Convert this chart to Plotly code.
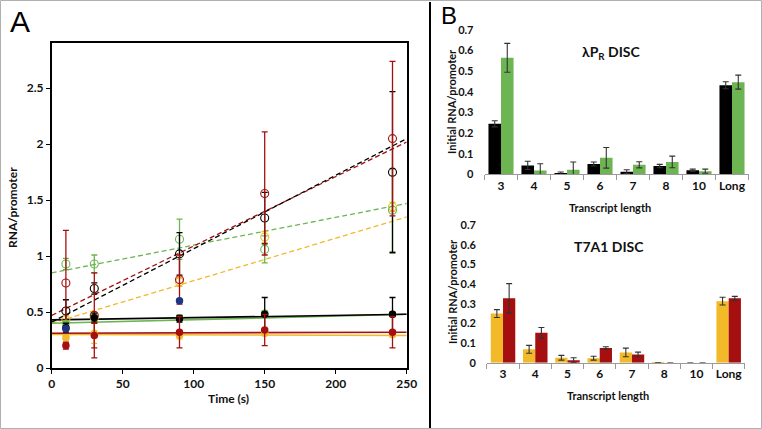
import plotly.graph_objects as go

W, H = 762, 429

# ---------------- Panel A data ----------------
time_s = [10, 30, 90, 150, 240]

red_open = [0.76, 0.47, 0.79, 1.56, 2.05]
red_open_err = [0.47, 0.38, 0.22, 0.55, 0.69]
black_open = [0.51, 0.71, 1.02, 1.34, 1.75]
black_open_err = [0.10, 0.05, 0.19, 0.23, 0.72]
green_open = [0.93, 0.93, 1.15, 1.06, 1.41]
green_open_err = [0.05, 0.08, 0.18, 0.12, 0.37]
yellow_open = [0.43, 0.45, 0.77, 1.17, 1.44]
yellow_open_err = [0.04, 0.05, 0.04, 0.05, 0.04]

black_fill = [0.36, 0.45, 0.44, 0.48, 0.48]
black_fill_err = [0.04, 0.04, 0.03, 0.15, 0.15]
green_fill = [0.40, 0.45, 0.45, 0.49, 0.48]
green_fill_err = [0.02, 0.03, 0.02, 0.02, 0.02]
red_fill = [0.20, 0.29, 0.32, 0.34, 0.32]
red_fill_err = [0.03, 0.11, 0.14, 0.14, 0.14]
yellow_fill = [0.27, 0.31, 0.29, 0.31, 0.30]
yellow_fill_err = [0.02, 0.09, 0.03, 0.02, 0.02]
blue_time = [10, 90]
blue_fill = [0.35, 0.60]

fit_x = [0, 250]
red_fit = [0.47, 2.02]
black_fit = [0.41, 2.05]
green_fit = [0.85, 1.47]
yellow_fit = [0.40, 1.35]
black_flat = [0.43, 0.48]
green_flat = [0.40, 0.48]
red_flat = [0.31, 0.32]
yellow_flat = [0.30, 0.29]

a_yticks = [0, 0.5, 1, 1.5, 2, 2.5]
a_yticklabels = ["0", "0.5", "1", "1.5", "2", "2.5"]
a_xticks = [0, 50, 100, 150, 200, 250]

# ---------------- Panel B data ----------------
lengths = ["3", "4", "5", "6", "7", "8", "10", "Long"]
lpr_black = [0.245, 0.043, 0.003, 0.050, 0.012, 0.040, 0.020, 0.432]
lpr_black_err = [0.015, 0.020, 0.008, 0.010, 0.010, 0.008, 0.005, 0.017]
lpr_green = [0.565, 0.018, 0.022, 0.080, 0.046, 0.060, 0.015, 0.447]
lpr_green_err = [0.070, 0.033, 0.038, 0.050, 0.015, 0.028, 0.010, 0.034]
t7_yellow = [0.250, 0.068, 0.025, 0.023, 0.052, 0.001, 0.0, 0.313]
t7_yellow_err = [0.020, 0.020, 0.012, 0.010, 0.022, 0.0, 0.0, 0.020]
t7_red = [0.327, 0.152, 0.013, 0.075, 0.042, 0.0, 0.0, 0.327]
t7_red_err = [0.075, 0.027, 0.012, 0.006, 0.012, 0.0, 0.0, 0.010]
b_yticks = [0, 0.1, 0.2, 0.3, 0.4, 0.5, 0.6, 0.7]
b_yticklabels = ["0", "0.1", "0.2", "0.3", "0.4", "0.5", "0.6", "0.7"]

C_BLACK = "#000000"
C_GREEN = "#6cb552"
C_RED = "#a50f0f"
C_YELLOW = "#f2b928"
C_BLUE = "#1e3584"
FONT = "Lato"

fig = go.Figure()


def px_x(x):
    return x / W


def px_y(y):
    return 1 - y / H


def err(vals, col, w=1.3):
    return dict(type="data", array=vals, visible=True, color=col, thickness=w, width=3)


# dashed fits
for ys, col in [(green_fit, C_GREEN), (yellow_fit, C_YELLOW), (red_fit, C_RED), (black_fit, C_BLACK)]:
    fig.add_trace(go.Scatter(x=fit_x, y=ys, mode="lines", line=dict(color=col, width=1.3, dash="5px,3px"),
                             xaxis="x", yaxis="y", showlegend=False, hoverinfo="skip"))
# solid fits
for ys, col in [(yellow_flat, C_YELLOW), (red_flat, C_RED), (green_flat, C_GREEN), (black_flat, C_BLACK)]:
    fig.add_trace(go.Scatter(x=fit_x, y=ys, mode="lines", line=dict(color=col, width=1.6),
                             xaxis="x", yaxis="y", showlegend=False, hoverinfo="skip"))

# open circles
for ys, es, col in [(yellow_open, yellow_open_err, C_YELLOW), (green_open, green_open_err, C_GREEN),
                    (black_open, black_open_err, C_BLACK), (red_open, red_open_err, C_RED)]:
    fig.add_trace(go.Scatter(x=time_s, y=ys, mode="markers", error_y=err(es, col),
                             marker=dict(symbol="circle-open", size=8, color=col, line=dict(width=1.1)),
                             xaxis="x", yaxis="y", showlegend=False))
# filled circles
for ys, es, col in [(yellow_fill, yellow_fill_err, C_YELLOW), (green_fill, green_fill_err, C_GREEN),
                    (black_fill, black_fill_err, C_BLACK), (red_fill, red_fill_err, C_RED)]:
    fig.add_trace(go.Scatter(x=time_s, y=ys, mode="markers", error_y=err(es, col),
                             marker=dict(symbol="circle", size=7.5, color=col),
                             xaxis="x", yaxis="y", showlegend=False))
fig.add_trace(go.Scatter(x=blue_time, y=blue_fill, mode="markers",
                         marker=dict(symbol="circle", size=7.5, color=C_BLUE),
                         xaxis="x", yaxis="y", showlegend=False))

# Panel B bars
ebar = dict(type="data", visible=True, color="#333333", thickness=1.1, width=3)
fig.add_trace(go.Bar(x=lengths, y=lpr_black, marker=dict(color=C_BLACK, line=dict(width=0)),
                     error_y=dict(ebar, array=lpr_black_err), xaxis="x2", yaxis="y2", offsetgroup="a", showlegend=False))
fig.add_trace(go.Bar(x=lengths, y=lpr_green, marker=dict(color=C_GREEN, line=dict(width=0)),
                     error_y=dict(ebar, array=lpr_green_err), xaxis="x2", yaxis="y2", offsetgroup="b", showlegend=False))
fig.add_trace(go.Bar(x=lengths, y=t7_yellow, marker=dict(color=C_YELLOW, line=dict(width=0)),
                     error_y=dict(ebar, array=t7_yellow_err), xaxis="x3", yaxis="y3", offsetgroup="c", showlegend=False))
fig.add_trace(go.Bar(x=lengths, y=t7_red, marker=dict(color=C_RED, line=dict(width=0)),
                     error_y=dict(ebar, array=t7_red_err), xaxis="x3", yaxis="y3", offsetgroup="d", showlegend=False))

tickfont = dict(family=FONT, size=12, color="#111111", weight="bold")

fig.update_layout(
    width=W, height=H, margin=dict(l=0, r=0, t=0, b=0, autoexpand=False),
    paper_bgcolor="white", plot_bgcolor="white",
    barmode="group", bargap=0.24, bargroupgap=0,
    xaxis=dict(domain=[px_x(51.7), px_x(406.7)], range=[0, 250], tickvals=a_xticks, tickangle=0,
               showline=True, linecolor="black", linewidth=1.5, mirror=True,
               ticks="outside", ticklen=4, tickcolor="black", tickwidth=1.3,
               showgrid=False, zeroline=False, tickfont=tickfont, anchor="y"),
    yaxis=dict(domain=[px_y(368), px_y(42.7)], range=[0, 2.907], tickvals=a_yticks, ticktext=a_yticklabels,
               showline=True, linecolor="black", linewidth=1.5, mirror=True,
               ticks="outside", ticklen=4, tickcolor="black", tickwidth=1.3,
               showgrid=False, zeroline=False, tickfont=tickfont, anchor="x"),
    xaxis2=dict(domain=[px_x(484.5), px_x(748.5)], type="category", anchor="y2", tickangle=0,
                showline=True, linecolor="#9a9a9a", linewidth=1, ticks="outside", tickson="boundaries",
                ticklen=5, tickcolor="#9a9a9a", showgrid=False, tickfont=tickfont),
    yaxis2=dict(domain=[px_y(174.3), px_y(30)], range=[0, 0.7], tickvals=b_yticks, ticktext=b_yticklabels,
                showline=False, showgrid=False, zeroline=False, ticks="", ticklabelstandoff=10,
                tickfont=dict(tickfont, size=11), anchor="x2"),
    xaxis3=dict(domain=[px_x(486.9), px_x(744.8)], type="category", anchor="y3", tickangle=0,
                showline=True, linecolor="#9a9a9a", linewidth=1, ticks="outside", tickson="boundaries",
                ticklen=5, tickcolor="#9a9a9a", showgrid=False, tickfont=tickfont),
    yaxis3=dict(domain=[px_y(362.7), px_y(225)], range=[0, 0.7], tickvals=b_yticks, ticktext=b_yticklabels,
                showline=False, showgrid=False, zeroline=False, ticks="", ticklabelstandoff=10,
                tickfont=dict(tickfont, size=11), anchor="x3"),
)

lab = dict(family=FONT, size=12, color="#111111", weight="bold")
ann = [
    dict(text="A", x=px_x(8), y=px_y(3), xanchor="left", yanchor="top", font=dict(family="Liberation Sans", size=30, color="black")),
    dict(text="B", x=px_x(439), y=px_y(0), xanchor="left", yanchor="top", font=dict(family="Liberation Sans", size=24, color="black")),
    dict(text="RNA/promoter", x=px_x(12), y=px_y(208), textangle=-90, xanchor="center", yanchor="middle", font=lab),
    dict(text="Time (s)", x=px_x(228), y=px_y(398), xanchor="center", yanchor="middle", font=lab),
    dict(text="Initial RNA/promoter", x=px_x(452), y=px_y(102), textangle=-90, xanchor="center", yanchor="middle", font=dict(lab, size=11)),
    dict(text="Initial RNA/promoter", x=px_x(452), y=px_y(292), textangle=-90, xanchor="center", yanchor="middle", font=dict(lab, size=11)),
    dict(text="Transcript length", x=px_x(610), y=px_y(207), xanchor="center", yanchor="middle", font=dict(lab, size=11)),
    dict(text="Transcript length", x=px_x(608), y=px_y(395), xanchor="center", yanchor="middle", font=dict(lab, size=11)),
    dict(text="λP<sub>R</sub> DISC", x=px_x(611), y=px_y(52), xanchor="center", yanchor="middle", font=dict(lab, size=14)),
    dict(text="T7A1 DISC", x=px_x(609), y=px_y(246), xanchor="center", yanchor="middle", font=dict(lab, size=14)),
]
for a in ann:
    a.update(xref="paper", yref="paper", showarrow=False)
fig.update_layout(annotations=ann)

fig.update_layout(shapes=[
    dict(type="rect", xref="paper", yref="paper", x0=px_x(0.5), x1=px_x(761.5), y0=px_y(428.5), y1=px_y(0.5),
         line=dict(color="#b0b0b0", width=1)),
    dict(type="line", xref="paper", yref="paper", x0=px_x(430), x1=px_x(430), y0=px_y(428), y1=px_y(2),
         line=dict(color="black", width=2)),
])

fig.write_html("out.html", config={"displayModeBar": False},
               post_script="document.body.style.margin='0';document.body.style.overflow='hidden';")
